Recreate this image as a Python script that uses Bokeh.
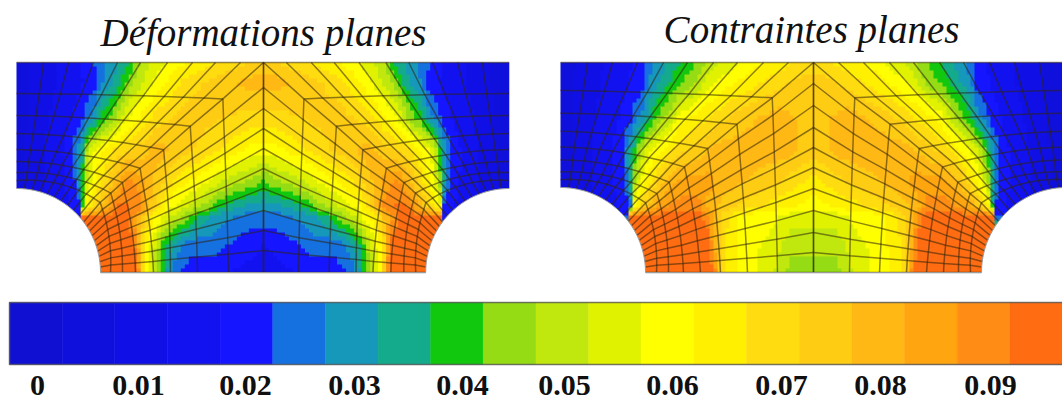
import numpy as np
from bokeh.plotting import figure
from bokeh.models import Range1d, LinearColorMapper
from bokeh.core.properties import value
from bokeh.embed import file_html
from bokeh.resources import INLINE

# ---------- colour scale ----------
LEVEL_COLORS = ["#1010d2","#1010dc","#1010e6","#1212f0","#1515ff","#1570e0","#1698bb","#14ab8c",
                "#12c80e","#95dc14","#c0e80e","#e0f200","#ffff00","#fff000","#ffdc10","#ffcc14",
                "#ffb814","#ffa510","#ff8c14","#ff6c12"]
TICK_LABELS = ["0","0.01","0.02","0.03","0.04","0.05","0.06","0.07","0.08","0.09"]
TICK_X = [37,138,245,354,462,564,672,781,880,990]

# ---------- panel 1 field, left half: rows of (x, level) ----------
P1_ROW_Y = [62,83,117,150,183,207,218,243,272]
P1_X = [
 [16,92,95,113,125,132,135,143,173,200,233,263],
 [16,96,98,107,117,123,128,137,157,187,217,253,263],
 [16,81,84,93,103,113,123,132,157,187,263],
 [16,71,73,82,85,90,97,117,140,157,180,207,253,263],
 [16,73,78,82,85,92,103,115,127,140,157,177,197,227,253,263],
 [16,81,83,93,103,113,120,140,147,157,167,180,193,207,213,227,250,263],
 [16,80,82,123,130,143,150,157,173,183,190,200,217,243,263],
 [16,75,77,133,137,143,148,157,163,170,177,190,215,232,263],
 [16,75,77,137,140,145,153,162,167,173,180,190,263],
]
P1_L = [
 [1,4,5,6,7,8,9,10,12,13,14,15],
 [1,4,5,6,7,8,9,10,12,14,15,16,16],
 [1,4,5,6,8,9,11,12,14,15,14],
 [1,4,5,7,9,11,12,14,15,16,15,14,12,12],
 [1,4,6,8,10,12,14,16,18,17,15,13,12,10,9,8],
 [1,4,12,14,16,18,19,18,16,14,12,11,10,9,8,7,6,6],
 [1,4,19,19,18,15,13,12,10,9,8,7,6,5,5],
 [1,4,19,19,17,13,12,10,8,7,6,5,5,4.4,3.5],
 [1,4,19,19,16,12,10,8,6,5,4.5,4,3],
]

# ---------- panel 2 field, left half ----------
P2_ROW_Y = [62,83,117,150,183,207,216,243,272]
P2_X = [
 [560,645,647,660,673,687,700,710,730,747,777,813],
 [560,643,645,653,665,675,690,707,723,747,773,803,813],
 [560,630,633,643,653,660,670,680,697,717,737,777,813],
 [560,622,623,632,638,647,657,677,697,717,783,813],
 [560,623,628,633,642,653,667,683,707,723,763,790,813],
 [560,630,633,643,657,677,697,707,723,747,773,813],
 [560,628,630,697,707,713,723,743,767,790,813],
 [560,620,622,707,712,720,730,747,773,790,813],
 [560,620,622,713,718,727,747,763,783,790,813],
]
P2_L = [
 [1,4,5,6,7,8,9,10,11,12,13,14],
 [1,4,5,6,7,8,9,11,12,13,14,15,15],
 [1,4,5,6,8,9,10,12,13,14,15,16,15],
 [1,4,5,7,9,11,12,14,15,16,16,15],
 [1,4,6,9,12,14,16,17,17,16,15,14,13],
 [1,4,12,15,17,18,18,16,15,14,13,12],
 [1,4,19,19,18,16,14,12,12,11,11],
 [1,4,19,19,17,14,13,12,11,10,10],
 [1,4,19,19,15,13,12,11,10,9,9],
]

# ---------- mesh boundaries ----------
P1_MESH = dict(cx=263, ax=16, top=62, bot=272, R=84, seam_angle=53,
    left_y=[188,180,172,161,149,133,115,93,62],
    bottom_x=[100,110,122,135,153,170,197,228,263],
    seam=[(80,218),(97,199),(108,190),(120,180),(138,166),(162,148),(189,125),(222,98),(263,62)],
    top_x=[16,43,68,93,117,140,167,192,215,240,263],
    center_y=[62,87,108,128,148,168,188,210,230,250,272])
P2_MESH = dict(cx=813, ax=560, top=62, bot=272, R=85, seam_angle=53,
    left_y=[188,180,172,160,147,131,113,90,62],
    bottom_x=[645,656,668,683,700,720,747,777,813],
    seam=[(630,218),(647,200),(658,191),(670,180),(685,165),(708,147),(737,123),(772,97),(813,62)],
    top_x=[560,587,612,637,663,687,713,737,763,788,813],
    center_y=[62,83,105,127,147,167,188,210,232,252,272])

p = figure(width=1062, height=403, x_range=Range1d(0,1062), y_range=Range1d(403,0),
           toolbar_location=None, output_backend="svg", min_border=0, outline_line_color=None)
p.axis.visible = False
p.grid.visible = False
p.background_fill_color = "white"

CELL = 4
mapper = LinearColorMapper(palette=LEVEL_COLORS, low=-0.5, high=19.5)

def draw_field(rows_y, xs, ls, m, s_top, s_bot, s_edge):
    cx, ax, top, bot = m["cx"], m["ax"], m["top"], m["bot"]
    x_end = cx + (cx - ax) * s_edge
    nx = int(round((x_end - ax) / CELL))
    ny = int(round((bot - top) / CELL))
    dx = (x_end - ax) / nx
    dy = (bot - top) / ny
    gx = ax + (np.arange(nx) + 0.5) * dx
    gy = top + (np.arange(ny) + 0.5) * dy
    F = np.zeros((ny, nx))
    for r, y in enumerate(gy):
        s = s_top + (s_bot - s_top) * (y - top) / (bot - top)
        q = np.where(gx <= cx, gx, cx - (gx - cx) / s)
        prof = np.array([np.interp(q, xs[n], ls[n]) for n in range(len(rows_y))])
        F[r] = [np.interp(y, rows_y, prof[:, k]) for k in range(nx)]
    p.image(image=[np.rint(F)], x=ax, y=top, dw=x_end - ax, dh=bot - top, color_mapper=mapper)

def arc_pts(m, a0, a1, n):
    th = np.radians(np.linspace(a0, a1, n))
    return np.c_[m["ax"] + m["R"] * np.sin(th), m["bot"] - m["R"] * np.cos(th)]

def coons(A, T, L, S):
    n, J = len(A) - 1, len(L) - 1
    G = np.zeros((n + 1, J + 1, 2))
    for i in range(n + 1):
        u = i / n
        for j in range(J + 1):
            v = j / J
            G[i, j] = ((1 - v) * A[i] + v * T[i] + (1 - u) * L[j] + u * S[j]
                       - ((1 - u) * (1 - v) * L[0] + u * (1 - v) * S[0] + (1 - u) * v * L[J] + u * v * S[J]))
    return G

def draw_mesh(m, s_right=1.0):
    cx, ax, top, bot = m["cx"], m["ax"], m["top"], m["bot"]
    seam = np.array(m["seam"], float)
    L = np.c_[np.full(9, ax), m["left_y"]].astype(float)
    B = np.c_[m["bottom_x"], np.full(9, bot)].astype(float)
    upper_top = np.c_[m["top_x"], np.full(11, top)].astype(float)
    lower_top = np.c_[np.full(11, cx), m["center_y"]].astype(float)
    sa = m["seam_angle"]
    U = coons(arc_pts(m, 0, sa, 11), upper_top, L, seam)
    Lo = coons(arc_pts(m, sa, 90, 11), lower_top, seam, B)
    xs, ys = [], []
    for j in range(1, 9):
        line = np.vstack([U[:, j], Lo[1:, j]])
        xs.append(line[:, 0]); ys.append(line[:, 1])
    for G in (U, Lo):
        for i in range(1, 11):
            xs.append(G[i, :, 0]); ys.append(G[i, :, 1])
    mx = [cx + (cx - x) * s_right for x in xs]
    p.multi_line(xs + mx, ys + ys, line_color="#30240c", line_alpha=0.55, line_width=1.5)

def hole(m, sign, s=1.0):
    pts = arc_pts(m, 0, 90, 40)
    x = pts[:, 0] if sign > 0 else m["cx"] + (m["cx"] - pts[:, 0]) * s
    y = pts[:, 1]
    ox = x[0] - 3 * sign
    p.patch([ox] + list(x) + [x[-1], ox], [y[0]] + list(y) + [m["bot"] + 3, m["bot"] + 3],
            fill_color="white", line_color=None)
    p.line(x, y, line_color="#9a9a9a", line_width=1)

for rows_y, xs, ls, m, st, sb, sm in ((P1_ROW_Y, P1_X, P1_L, P1_MESH, 0.97, 0.985, 0.995),
                                      (P2_ROW_Y, P2_X, P2_L, P2_MESH, 0.95, 1.0, 1.0)):
    draw_field(rows_y, xs, ls, m, st, sb, sm)
    draw_mesh(m, sm)
    hole(m, 1)
    hole(m, -1, sm)
    bx0 = m["ax"] + m["R"]
    bx1 = m["cx"] + (m["cx"] - bx0) * sm
    p.line([bx0, bx1], [m["bot"], m["bot"]], line_color="#9a9a9a", line_width=1)

# ---------- colour bar ----------
BAR_X0, BAR_STEP = 9, 52.65
bl = [BAR_X0 + BAR_STEP * i for i in range(20)]
br = [BAR_X0 + BAR_STEP * (i + 1) for i in range(20)]
p.quad(left=bl, right=br, top=[302]*20, bottom=[364]*20, fill_color=LEVEL_COLORS, line_color=LEVEL_COLORS, line_width=0.5)
p.line([1063, 9, 9, 1063], [302, 302, 364, 364], line_color="#555555", line_width=1.5, line_alpha=0.8)

p.text(x=TICK_X, y=[385]*10, text=TICK_LABELS, text_font=value("Liberation Serif"), text_font_style="bold",
       text_font_size="30px", text_align="center", text_baseline="middle", text_color="#101010")

p.text(x=[263, 811], y=[32, 29], text=["Déformations planes", "Contraintes planes"],
       text_font=value("Liberation Serif"), text_font_style="italic", text_font_size="39px",
       text_align="center", text_baseline="middle", text_color="#111111")

open("out.html", "w").write(file_html(p, INLINE))
